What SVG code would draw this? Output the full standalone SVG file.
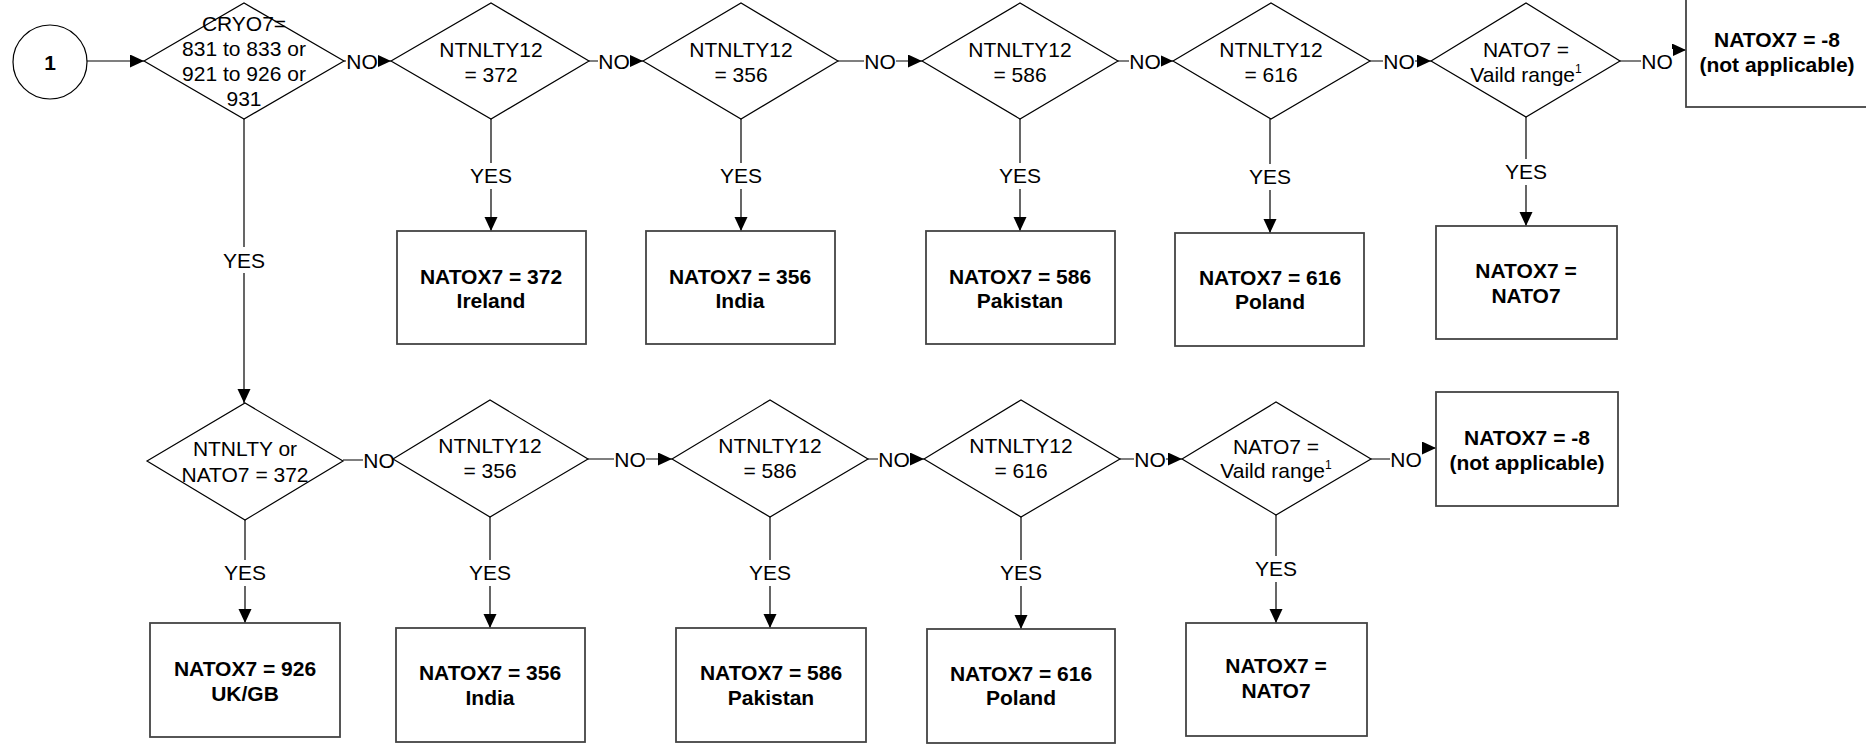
<svg xmlns="http://www.w3.org/2000/svg" width="1866" height="748" viewBox="0 0 1866 748">
<defs>
<marker id="arr" markerUnits="userSpaceOnUse" markerWidth="15" markerHeight="14" refX="14" refY="6.5" orient="auto"><path d="M0,0 L14,6.5 L0,13 z" fill="#000"/></marker>
<style>
.sh{fill:#fff;stroke:#000;stroke-width:1.2}
.bx{fill:#fff;stroke:#444;stroke-width:1.8}
.t{font-family:"Liberation Sans",Arial,sans-serif;font-size:21px;fill:#000;text-anchor:middle}
.b{font-weight:bold}
.ln{fill:none;stroke:#000;stroke-width:1.2}
.lb{fill:#fff;stroke:none}
.sup{font-size:12px}
</style>
</defs>
<rect width="1866" height="748" fill="#fff"/>
<g id="connectors">
<path class="ln" d="M87,61 H144" marker-end="url(#arr)"/>
<path class="ln" d="M344,61 H391" marker-end="url(#arr)"/>
<path class="ln" d="M589,61 H643" marker-end="url(#arr)"/>
<path class="ln" d="M838,61 H922" marker-end="url(#arr)"/>
<path class="ln" d="M1118,61 H1173" marker-end="url(#arr)"/>
<path class="ln" d="M1370,61 H1431" marker-end="url(#arr)"/>
<path class="ln" d="M1620,61 H1656 V50 H1686" marker-end="url(#arr)"/>
<path class="ln" d="M244,119 V403" marker-end="url(#arr)"/>
<path class="ln" d="M491,119 V231" marker-end="url(#arr)"/>
<path class="ln" d="M741,119 V231" marker-end="url(#arr)"/>
<path class="ln" d="M1020,119 V231" marker-end="url(#arr)"/>
<path class="ln" d="M1270,119 V233" marker-end="url(#arr)"/>
<path class="ln" d="M1526,117 V226" marker-end="url(#arr)"/>
<path class="ln" d="M343,460 H393" marker-end="url(#arr)"/>
<path class="ln" d="M588,459 H672" marker-end="url(#arr)"/>
<path class="ln" d="M868,459 H924" marker-end="url(#arr)"/>
<path class="ln" d="M1120,459 H1182" marker-end="url(#arr)"/>
<path class="ln" d="M1371,459 H1405 V448 H1436" marker-end="url(#arr)"/>
<path class="ln" d="M245,520 V623" marker-end="url(#arr)"/>
<path class="ln" d="M490,517 V628" marker-end="url(#arr)"/>
<path class="ln" d="M770,517 V628" marker-end="url(#arr)"/>
<path class="ln" d="M1021,517 V629" marker-end="url(#arr)"/>
<path class="ln" d="M1276,515 V623" marker-end="url(#arr)"/>
<g id="labels">
<rect class="lb" x="346" y="51" width="32" height="20"/><text class="t" x="362" y="68.5">NO</text>
<rect class="lb" x="598" y="51" width="32" height="20"/><text class="t" x="614" y="68.5">NO</text>
<rect class="lb" x="864" y="51" width="32" height="20"/><text class="t" x="880" y="68.5">NO</text>
<rect class="lb" x="1129" y="51" width="32" height="20"/><text class="t" x="1145" y="68.5">NO</text>
<rect class="lb" x="1383" y="51" width="32" height="20"/><text class="t" x="1399" y="68.5">NO</text>
<rect class="lb" x="1641" y="49" width="32" height="22"/><text class="t" x="1657" y="68.5">NO</text>
<rect class="lb" x="223" y="247" width="42" height="26"/><text class="t" x="244" y="267.5">YES</text>
<rect class="lb" x="470" y="163" width="42" height="26"/><text class="t" x="491" y="182.5">YES</text>
<rect class="lb" x="720" y="163" width="42" height="26"/><text class="t" x="741" y="182.5">YES</text>
<rect class="lb" x="999" y="163" width="42" height="26"/><text class="t" x="1020" y="182.5">YES</text>
<rect class="lb" x="1249" y="164" width="42" height="26"/><text class="t" x="1270" y="183.5">YES</text>
<rect class="lb" x="1505" y="159" width="42" height="26"/><text class="t" x="1526" y="178.5">YES</text>
<rect class="lb" x="363" y="449" width="32" height="22"/><text class="t" x="379" y="467.5">NO</text>
<rect class="lb" x="614" y="449" width="32" height="20"/><text class="t" x="630" y="466.5">NO</text>
<rect class="lb" x="878" y="449" width="32" height="20"/><text class="t" x="894" y="466.5">NO</text>
<rect class="lb" x="1134" y="449" width="32" height="20"/><text class="t" x="1150" y="466.5">NO</text>
<rect class="lb" x="1390" y="446" width="32" height="23"/><text class="t" x="1406" y="466.5">NO</text>
<rect class="lb" x="224" y="560" width="42" height="26"/><text class="t" x="245" y="579.5">YES</text>
<rect class="lb" x="469" y="560" width="42" height="26"/><text class="t" x="490" y="579.5">YES</text>
<rect class="lb" x="749" y="560" width="42" height="26"/><text class="t" x="770" y="579.5">YES</text>
<rect class="lb" x="1000" y="560" width="42" height="26"/><text class="t" x="1021" y="579.5">YES</text>
<rect class="lb" x="1255" y="556" width="42" height="26"/><text class="t" x="1276" y="575.5">YES</text>
</g>
</g>
<g id="start"><circle class="sh" cx="50" cy="62" r="37"/><text class="t b" x="50" y="69.5">1</text></g>
<g id="d1"><polygon class="sh" points="144,61 244,3 344,61 244,119"/>
<text class="t" x="244" y="30.5">CRYO7=</text><text class="t" x="244" y="55.5">831 to 833 or</text><text class="t" x="244" y="80.5">921 to 926 or</text><text class="t" x="244" y="105.5">931</text></g>
<g id="d2"><polygon class="sh" points="391,61 491,3 589,61 491,119"/><text class="t" x="491" y="57">NTNLTY12</text><text class="t" x="491" y="82">= 372</text></g>
<g id="d3"><polygon class="sh" points="643,61 741,3 838,61 741,119"/><text class="t" x="741" y="57">NTNLTY12</text><text class="t" x="741" y="82">= 356</text></g>
<g id="d4"><polygon class="sh" points="922,61 1020,3 1118,61 1020,119"/><text class="t" x="1020" y="57">NTNLTY12</text><text class="t" x="1020" y="82">= 586</text></g>
<g id="d5"><polygon class="sh" points="1173,61 1271,3 1370,61 1271,119"/><text class="t" x="1271" y="57">NTNLTY12</text><text class="t" x="1271" y="82">= 616</text></g>
<g id="d6"><polygon class="sh" points="1431,61 1526,3 1620,61 1526,117"/><text class="t" x="1526" y="57">NATO7 =</text><text class="t" x="1526" y="82">Vaild range<tspan class="sup" dy="-9">1</tspan></text></g>
<g id="b_top_na"><rect class="bx" x="1686" y="-6" width="182" height="113"/><text class="t b" x="1777" y="46.5">NATOX7 = -8</text><text class="t b" x="1777" y="71.5">(not applicable)</text></g>
<g id="b_ireland"><rect class="bx" x="397" y="231" width="189" height="113"/><text class="t b" x="491" y="283.5">NATOX7 = 372</text><text class="t b" x="491" y="307.5">Ireland</text></g>
<g id="b_india1"><rect class="bx" x="646" y="231" width="189" height="113"/><text class="t b" x="740" y="283.5">NATOX7 = 356</text><text class="t b" x="740" y="307.5">India</text></g>
<g id="b_pak1"><rect class="bx" x="926" y="231" width="189" height="113"/><text class="t b" x="1020" y="283.5">NATOX7 = 586</text><text class="t b" x="1020" y="307.5">Pakistan</text></g>
<g id="b_pol1"><rect class="bx" x="1175" y="233" width="189" height="113"/><text class="t b" x="1270" y="284.5">NATOX7 = 616</text><text class="t b" x="1270" y="309">Poland</text></g>
<g id="b_nato1"><rect class="bx" x="1436" y="226" width="181" height="113"/><text class="t b" x="1526" y="277.5">NATOX7 =</text><text class="t b" x="1526" y="302.5">NATO7</text></g>
<g id="d7"><polygon class="sh" points="147,461 245,403 343,461 245,520"/><text class="t" x="245" y="456">NTNLTY or</text><text class="t" x="245" y="481.5">NATO7 = 372</text></g>
<g id="d8"><polygon class="sh" points="393,459 490,400 588,459 490,517"/><text class="t" x="490" y="452.5">NTNLTY12</text><text class="t" x="490" y="478">= 356</text></g>
<g id="d9"><polygon class="sh" points="672,459 770,400 868,459 770,517"/><text class="t" x="770" y="452.5">NTNLTY12</text><text class="t" x="770" y="478">= 586</text></g>
<g id="d10"><polygon class="sh" points="924,459 1021,400 1120,459 1021,517"/><text class="t" x="1021" y="452.5">NTNLTY12</text><text class="t" x="1021" y="478">= 616</text></g>
<g id="d11"><polygon class="sh" points="1182,459 1276,402 1371,459 1276,515"/><text class="t" x="1276" y="454">NATO7 =</text><text class="t" x="1276" y="478">Vaild range<tspan class="sup" dy="-9">1</tspan></text></g>
<g id="b_row2_na"><rect class="bx" x="1436" y="392" width="182" height="114"/><text class="t b" x="1527" y="444.5">NATOX7 = -8</text><text class="t b" x="1527" y="469.5">(not applicable)</text></g>
<g id="b_ukgb"><rect class="bx" x="150" y="623" width="190" height="114"/><text class="t b" x="245" y="676">NATOX7 = 926</text><text class="t b" x="245" y="701">UK/GB</text></g>
<g id="b_india2"><rect class="bx" x="396" y="628" width="189" height="114"/><text class="t b" x="490" y="680">NATOX7 = 356</text><text class="t b" x="490" y="704.5">India</text></g>
<g id="b_pak2"><rect class="bx" x="676" y="628" width="190" height="114"/><text class="t b" x="771" y="680">NATOX7 = 586</text><text class="t b" x="771" y="704.5">Pakistan</text></g>
<g id="b_pol2"><rect class="bx" x="927" y="629" width="188" height="114"/><text class="t b" x="1021" y="680.5">NATOX7 = 616</text><text class="t b" x="1021" y="705">Poland</text></g>
<g id="b_nato2"><rect class="bx" x="1186" y="623" width="181" height="113"/><text class="t b" x="1276" y="673">NATOX7 =</text><text class="t b" x="1276" y="698">NATO7</text></g>
</svg>
